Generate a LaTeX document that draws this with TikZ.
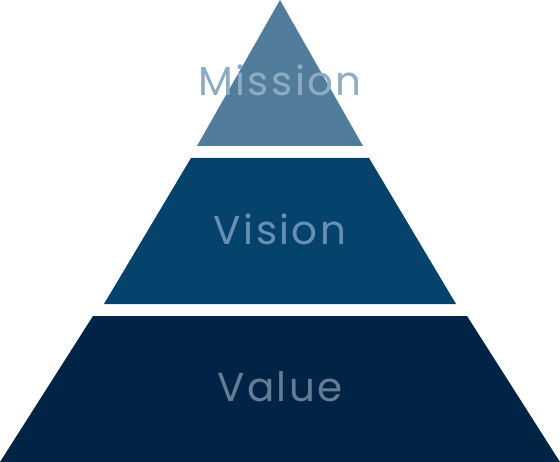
\documentclass[tikz,border=0pt]{standalone}
\usepackage{fontspec}
\usepackage{tikz}
\newfontfamily\pyramidfont[LetterSpace=6]{Poppins}
\definecolor{missionblue}{HTML}{527C9C}
\definecolor{visionblue}{HTML}{05426C}
\definecolor{valueblue}{HTML}{012345}
\definecolor{missiontext}{HTML}{8EABC4}
\definecolor{visiontext}{HTML}{6890B2}
\definecolor{valuetext}{HTML}{647D96}
\tikzset{layername/.style={anchor=base,inner sep=0pt,
  font=\pyramidfont\fontsize{23}{23}\selectfont}}

\begin{document}
\begin{tikzpicture}[x=0.02cm,y=-0.02cm]
  \useasboundingbox (0,0) rectangle (560,462);
  \fill[missionblue] (280,0) -- (363,146) -- (197,146) -- cycle;
  \fill[visionblue] (191,158) -- (369,158) -- (456,304) -- (104,304) -- cycle;
  \fill[valueblue] (93,316) -- (467,316) -- (560,462) -- (0,462) -- cycle;
  \node[layername,text=missiontext] (mission) at (280,96) {Mission};
  \node[layername,text=visiontext] (vision) at (280,244) {Vision};
  \node[layername,text=valuetext] (value) at (280,401) {Value};
\end{tikzpicture}
\end{document}
